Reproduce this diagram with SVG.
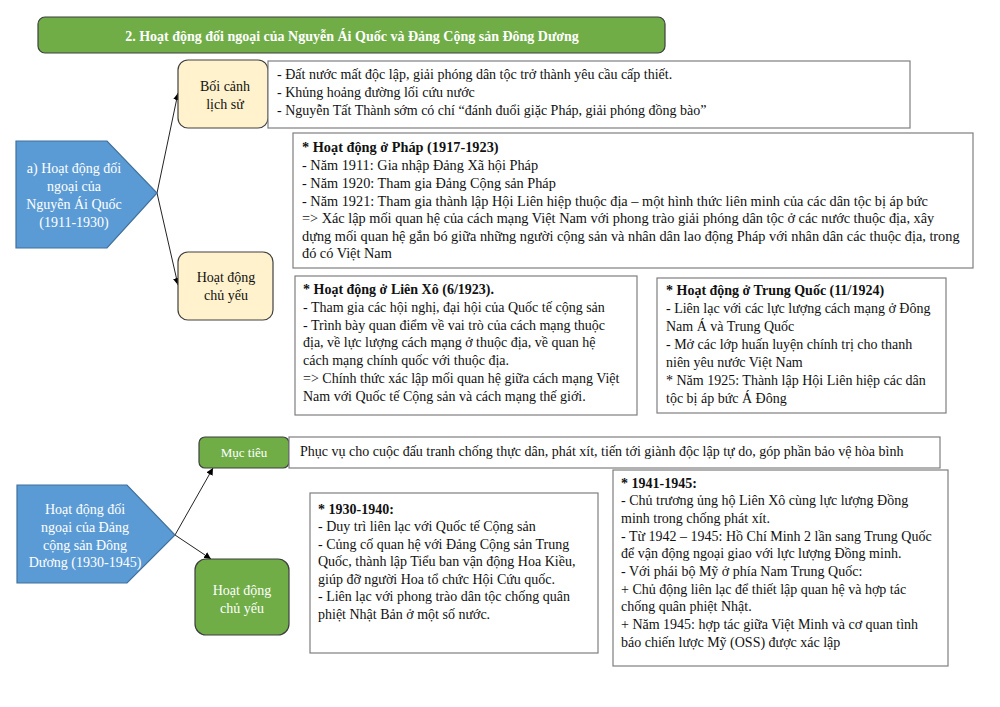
<svg xmlns="http://www.w3.org/2000/svg" width="1000" height="707" viewBox="0 0 1000 707">
<defs>
<marker id="ah" viewBox="0 0 10 10" refX="10" refY="5" markerWidth="7" markerHeight="7" orient="auto" markerUnits="userSpaceOnUse"><path d="M0,0 L10,5 L0,10 z" fill="#000"/></marker>
<style>
text{font-family:"Liberation Serif","Times New Roman",serif;font-size:14px;fill:#111}
.w{fill:#fff}
.c{text-anchor:middle}
.b{font-weight:bold}
.p text{font-size:14.3px}
.blue{fill:#5B9BD5;stroke:#41719C;stroke-width:1.2}
.green{fill:#70AD47;stroke:#3f3f3f;stroke-width:1.2}
.yel{fill:#FFF2CC;stroke:#404040;stroke-width:1.2}
.box{fill:#fff;stroke:#7f7f7f;stroke-width:1.2}
.con{stroke:#222;stroke-width:1;fill:none;marker-end:url(#ah)}
</style>
</defs>
<rect width="1000" height="707" fill="#fff"/>
<g id="title">
<rect x="38" y="17" width="627" height="36" rx="7" class="green"/>
<text x="352" y="41" class="w c b">2. Hoạt động đối ngoại của Nguyễn Ái Quốc và Đảng Cộng sản Đông Dương</text>
</g>
<g id="connectors">
<line x1="157" y1="193" x2="178" y2="93" class="con"/>
<line x1="157" y1="193" x2="178" y2="285" class="con"/>
<line x1="175" y1="535" x2="213" y2="468" class="con"/>
<line x1="175" y1="535" x2="211" y2="559" class="con"/>
</g>
<g id="node-a">
<polygon points="16,141 107,141 157,193 107,248 16,248" class="blue"/>
<text class="w c" x="74" y="173">a) Hoạt động đối</text>
<text class="w c" x="74" y="191">ngoại của</text>
<text class="w c" x="74" y="209">Nguyễn Ái Quốc</text>
<text class="w c" x="74" y="227">(1911-1930)</text>
</g>
<g id="boi-canh">
<rect x="178" y="60" width="90" height="68" rx="10" class="yel"/>
<text class="c" x="225" y="91">Bối cảnh</text>
<text class="c" x="225" y="109">lịch sử</text>
</g>
<g id="boi-canh-text">
<rect x="268" y="61" width="642" height="67" class="box"/>
<text x="277" y="79">- Đất nước mất độc lập, giải phóng dân tộc trở thành yêu cầu cấp thiết.</text>
<text x="277" y="97">- Khủng hoảng đường lối cứu nước</text>
<text x="277" y="115">- Nguyễn Tất Thành sớm có chí “đánh đuổi giặc Pháp, giải phóng đồng bào”</text>
</g>
<g id="hoat-dong-a">
<rect x="178" y="252" width="95" height="68" rx="10" class="yel"/>
<text class="c" x="226" y="282">Hoạt động</text>
<text class="c" x="226" y="300">chủ yếu</text>
</g>
<g id="phap" class="p">
<rect x="293" y="133" width="680" height="135" class="box"/>
<text x="302" y="152" class="b">* Hoạt động ở Pháp (1917-1923)</text>
<text x="302" y="170">- Năm 1911: Gia nhập Đảng Xã hội Pháp</text>
<text x="302" y="188">- Năm 1920: Tham gia Đảng Cộng sản Pháp</text>
<text x="302" y="206">- Năm 1921: Tham gia thành lập Hội Liên hiệp thuộc địa – một hình thức liên minh của các dân tộc bị áp bức</text>
<text x="302" y="223">=&gt; Xác lập mối quan hệ của cách mạng Việt Nam với phong trào giải phóng dân tộc ở các nước thuộc địa, xây</text>
<text x="302" y="241">dựng mối quan hệ gắn bó giữa những người cộng sản và nhân dân lao động Pháp với nhân dân các thuộc địa, trong</text>
<text x="302" y="258">đó có Việt Nam</text>
</g>
<g id="lien-xo">
<rect x="295" y="276" width="342" height="139" class="box"/>
<text x="303" y="294" class="b">* Hoạt động ở Liên Xô (6/1923).</text>
<text x="303" y="312">- Tham gia các hội nghị, đại hội của Quốc tế cộng sản</text>
<text x="303" y="330">- Trình bày quan điểm về vai trò của cách mạng thuộc</text>
<text x="303" y="347">địa, về lực lượng cách mạng ở thuộc địa, về quan hệ</text>
<text x="303" y="365">cách mạng chính quốc với thuộc địa.</text>
<text x="303" y="383">=&gt; Chính thức xác lập mối quan hệ giữa cách mạng Việt</text>
<text x="303" y="401">Nam với Quốc tế Cộng sản và cách mạng thế giới.</text>
</g>
<g id="trung-quoc">
<rect x="657" y="278" width="289" height="135" class="box"/>
<text x="666" y="295" class="b">* Hoạt động ở Trung Quốc (11/1924)</text>
<text x="666" y="313">- Liên lạc với các lực lượng cách mạng ở Đông</text>
<text x="666" y="331">Nam Á và Trung Quốc</text>
<text x="666" y="349">- Mở các lớp huấn luyện chính trị cho thanh</text>
<text x="666" y="367">niên yêu nước Việt Nam</text>
<text x="666" y="385">* Năm 1925: Thành lập Hội Liên hiệp các dân</text>
<text x="666" y="403">tộc bị áp bức Á Đông</text>
</g>
<g id="node-b">
<polygon points="17,485 127,485 175,535 127,583 17,583" class="blue"/>
<text class="w c" x="85" y="514">Hoạt động đối</text>
<text class="w c" x="85" y="532">ngoại của Đảng</text>
<text class="w c" x="85" y="550">cộng sản Đông</text>
<text class="w c" x="85" y="567">Dương (1930-1945)</text>
</g>
<g id="muc-tieu">
<rect x="199" y="437" width="90" height="31" rx="6" class="green"/>
<text class="w c" x="244" y="457" style="font-size:13px">Mục tiêu</text>
</g>
<g id="muc-tieu-text">
<rect x="289" y="437" width="651" height="31" class="box"/>
<text x="300" y="456">Phục vụ cho cuộc đấu tranh chống thực dân, phát xít, tiến tới giành độc lập tự do, góp phần bảo vệ hòa bình</text>
</g>
<g id="hoat-dong-b">
<rect x="195" y="559" width="94" height="76" rx="11" class="green"/>
<text class="w c" x="242" y="595">Hoạt động</text>
<text class="w c" x="242" y="613">chủ yếu</text>
</g>
<g id="p1930">
<rect x="310" y="493" width="288" height="160" class="box"/>
<text x="318" y="514" class="b">* 1930-1940:</text>
<text x="318" y="531">- Duy trì liên lạc với Quốc tế Cộng sản</text>
<text x="318" y="549">- Củng cố quan hệ với Đảng Cộng sản Trung</text>
<text x="318" y="566">Quốc, thành lập Tiểu ban vận động Hoa Kiều,</text>
<text x="318" y="584">giúp đỡ người Hoa tổ chức Hội Cứu quốc.</text>
<text x="318" y="601">- Liên lạc với phong trào dân tộc chống quân</text>
<text x="318" y="619">phiệt Nhật Bản ở một số nước.</text>
</g>
<g id="p1941">
<rect x="613" y="470" width="335" height="196" class="box"/>
<text x="621" y="488" class="b">* 1941-1945:</text>
<text x="621" y="505">- Chủ trương ủng hộ Liên Xô cùng lực lượng Đồng</text>
<text x="621" y="523">minh trong chống phát xít.</text>
<text x="621" y="541">- Từ 1942 – 1945: Hồ Chí Minh 2 lần sang Trung Quốc</text>
<text x="621" y="558">để vận động ngoại giao với lực lượng Đồng minh.</text>
<text x="621" y="576">- Với phái bộ Mỹ ở phía Nam Trung Quốc:</text>
<text x="621" y="594">+ Chủ động liên lạc để thiết lập quan hệ và hợp tác</text>
<text x="621" y="611">chống quân phiệt Nhật.</text>
<text x="621" y="629">+ Năm 1945: hợp tác giữa Việt Minh và cơ quan tình</text>
<text x="621" y="647">báo chiến lược Mỹ (OSS) được xác lập</text>
</g>
</svg>
